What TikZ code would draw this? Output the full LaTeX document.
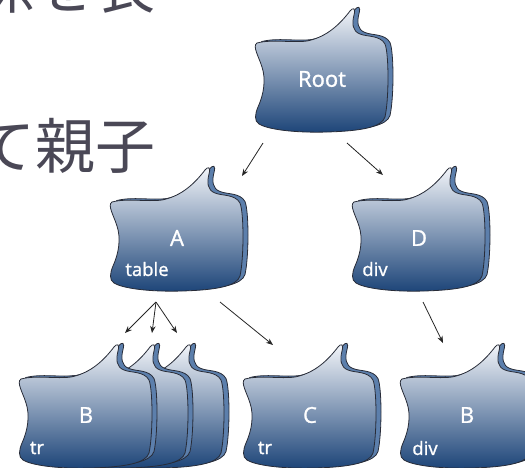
\documentclass[tikz,border=0pt]{standalone}
\usepackage{fontspec}
\setmainfont{Open Sans}
\newfontfamily\lblfont{Open Sans}[FakeBold=1.2]
\newfontfamily\jpfont{Noto Sans CJK JP}
\usetikzlibrary{arrows.meta}
\definecolor{rimblue}{RGB}{92,127,172}
\definecolor{edgecol}{RGB}{40,44,56}
\definecolor{toplight}{RGB}{244,246,250}
\definecolor{botdark}{RGB}{28,68,120}
\definecolor{jptext}{RGB}{74,72,86}
\newcommand{\blobdraw}[1]{%
  \path[#1] (-65,-36) .. controls (-50,-40) and (-30,-36) .. (-15,-38)
    .. controls (5,-42) and (18,-55) .. (28,-68)
    .. controls (31,-72) and (34,-71) .. (32,-64)
    .. controls (30,-56) and (30,-48) .. (38,-45)
    .. controls (45,-42) and (58,-44) .. (63,-35)
    .. controls (67,-25) and (67,20) .. (63,38)
    .. controls (60,48) and (40,52) .. (5,53)
    .. controls (-30,54) and (-55,50) .. (-63,45)
    .. controls (-68,42) and (-67,35) .. (-64,28)
    .. controls (-58,15) and (-56,0) .. (-60,-12)
    .. controls (-63,-22) and (-70,-33) .. (-65,-36) -- cycle;}
\tikzset{
  blobshape/.pic={
    \begin{scope}[shift={(5,-1.5)}]
      \blobdraw{draw=edgecol,fill=rimblue,line width=0.8pt}
    \end{scope}
    \blobdraw{draw=edgecol,line width=0.8pt,top color=toplight,bottom color=botdark}
  },
  lbl/.style={text=white,inner sep=0pt,font=\lblfont\fontsize{22}{22}\selectfont},
  sublbl/.style={text=white,inner sep=0pt,font=\lblfont\fontsize{18.5}{18.5}\selectfont},
  arr/.style={draw=black!85,line width=0.8pt,-{Stealth[length=7pt,width=5.5pt]}},
  jp/.style={text=jptext,inner sep=0pt,anchor=base west,font=\jpfont\fontsize{60}{60}\selectfont}
}
\begin{document}
\begin{tikzpicture}[x=1pt,y=-1pt]
\useasboundingbox (0,0) rectangle (525,467);
\clip (0,0) rectangle (525,467);
% Japanese text (cut off by the picture's edges, as in the reference)
\node[jp] (line1) at (-25,8) {係を表};
\node[jp] (line2) at (-25,168) {て親子};
% shapes
\pic at (322,79) {blobshape};
\pic at (177,238) {blobshape};
\pic at (419,238) {blobshape};
\pic at (158,415) {blobshape};
\pic at (122,415) {blobshape};
\pic at (86,415) {blobshape};
\pic at (310,415) {blobshape};
\pic at (467,415) {blobshape};
% labels
\node[lbl] (root) at (322,79) {Root};
\node[lbl] (A) at (177,238) {A};
\node[sublbl] (Asub) at (147,269) {table};
\node[lbl] (D) at (419,238) {D};
\node[sublbl] (Dsub) at (375,269) {div};
\node[lbl] (B1) at (86,415) {B};
\node[sublbl] (B1sub) at (37,448) {tr};
\coordinate (B1b) at (122,415);
\coordinate (B1c) at (158,415);
\node[lbl] (C) at (310,415) {C};
\node[sublbl] (Csub) at (265,448) {tr};
\node[lbl] (B2) at (467,415) {B};
\node[sublbl] (B2sub) at (425,448) {div};
% arrows
\draw[arr] ([shift={(-59,64)}]root.center) -- ([shift={(65,-62)}]A.center);
\draw[arr] ([shift={(25,64)}]root.center) -- ([shift={(-36,-63)}]D.center);
\draw[arr] ([shift={(-21,64)}]A.center) -- ([shift={(39,-82)}]B1.center);
\draw[arr] ([shift={(-21,64)}]A.center) -- ([shift={(30,-82)}]B1b);
\draw[arr] ([shift={(-21,64)}]A.center) -- ([shift={(19,-82)}]B1c);
\draw[arr] ([shift={(43,64)}]A.center) -- ([shift={(-37,-70)}]C.center);
\draw[arr] ([shift={(4,64)}]D.center) -- ([shift={(-24,-72)}]B2.center);
\end{tikzpicture}
\end{document}
